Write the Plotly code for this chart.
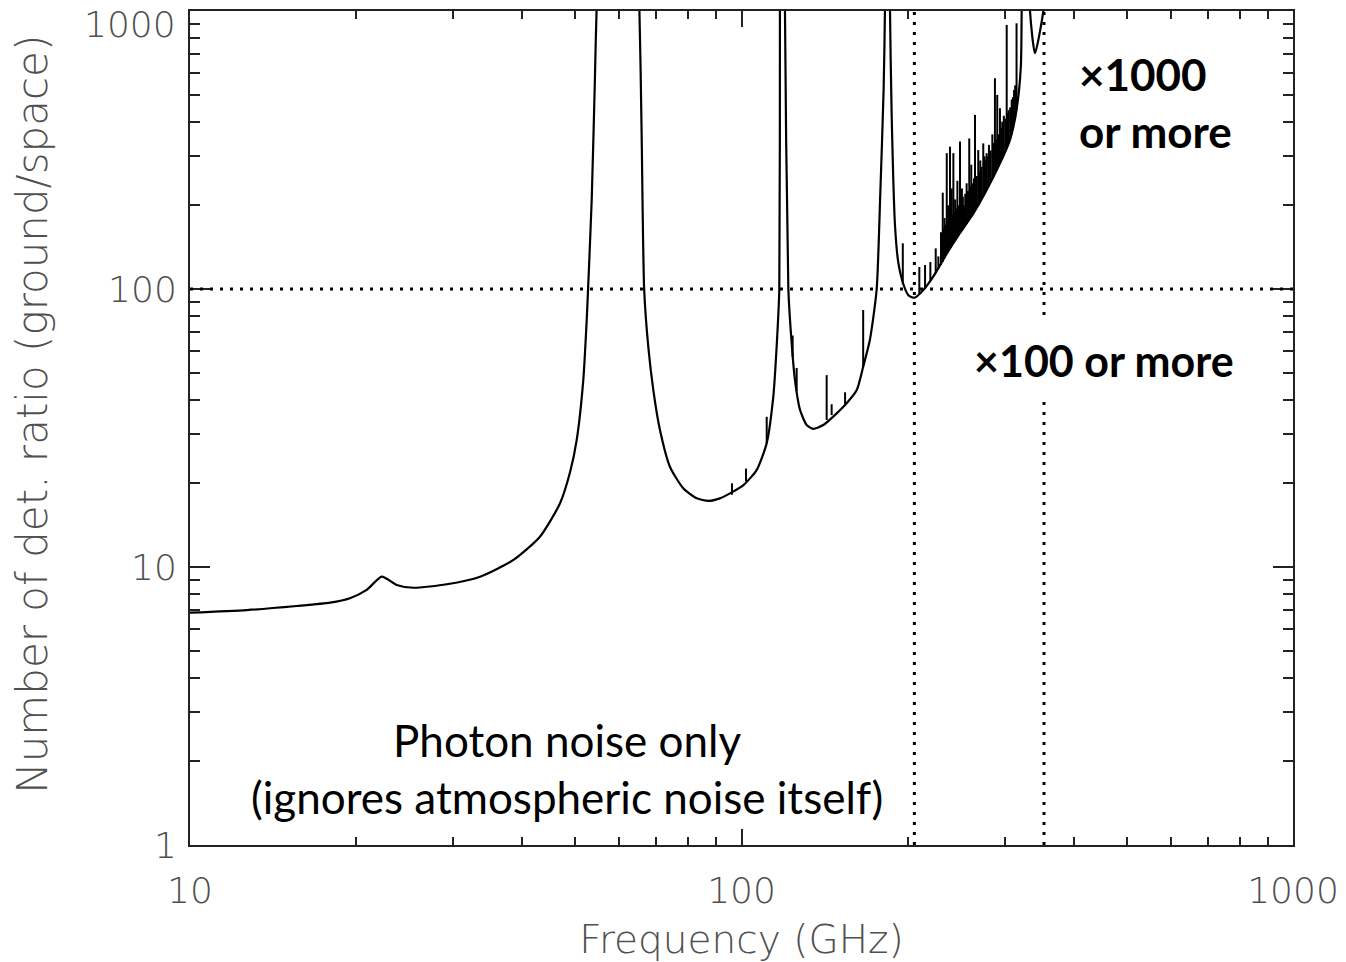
import plotly.graph_objects as go

# smooth envelope (GHz, ground/space detector ratio)
# values above 1000 run off the top of the plot
FREQ_GHZ = [10, 12.67, 15.62, 17.95, 19.5, 20.91, 22.27, 23.7, 25.41, 29.22,
            33.57, 38.59, 43.11, 46.88, 48.9, 50.25, 51.66, 52.4, 52.7, 53.5,
            54.2, 54.6, 60, 65.3, 65.9, 66.6, 67.76, 69.2, 71.15, 74.2,
            78.4, 82.96, 87.1, 91.4, 95.3, 100.8, 106.5, 111.1, 114.2, 115.8,
            117.1, 117.4, 118.75, 119.9, 121.6, 123.3, 125, 127.7, 131.3, 134.9,
            140.7, 148.8, 155.1, 161.8, 166.2, 170.9, 175.8, 178.5, 181, 182,
            183.3, 185.9, 187.2, 189.8, 192.4, 196.6, 200.7, 205.8, 213.5, 222.8,
            235.6, 249, 263.3, 278.3, 294.2, 306.8, 315.3, 321, 322.1, 325,
            333.5, 340.6, 352.6, 358]
RATIO = [6.85, 7.0, 7.24, 7.44, 7.72, 8.27, 9.23, 8.62, 8.42, 8.67,
         9.23, 10.6, 12.85, 16.95, 22.0, 28.6, 47.1, 77.3, 100, 209,
         550, 1000, 1e5, 1000, 364, 100, 62, 43.3, 31.1, 22.9,
         19.2, 17.66, 17.3, 17.66, 18.4, 19.7, 22.3, 27.9, 41, 62,
         100, 1000, 1e5, 1000, 100, 63.8, 47.1, 36.7, 32.4, 31.4,
         32.4, 35.7, 38.8, 43.3, 52.5, 65.5, 99.4, 220, 520, 1000,
         1e5, 1000, 420, 170, 125, 104, 95, 93, 99, 111,
         134, 159, 187, 227, 283, 344, 441, 630, 1000, 1e5,
         1000, 705, 1000, 1500]

# narrow lines sitting on the envelope (frequency, foot, tip)
SPIKE_FREQ = [96.1, 101.9, 111.1, 123.8, 125.9, 142.7, 145.7, 154.1, 166.2, 196.1,
              210.1, 215.2, 220, 225, 227.5, 230, 231.7, 233.5, 235.6, 237,
              238.8, 240.5, 242.2, 244, 246.3, 249, 251, 253.2, 256, 258.8,
              261, 265.1, 268.7, 271, 274.4, 276, 278.3, 281, 285, 288.1,
              290.9, 294.2, 297, 299, 302.6, 305, 309, 312, 315.3,
              232.5, 234.5, 236.5, 239.5, 241.5, 243, 245, 247.5, 250, 252,
              254.5, 257.5, 260, 262, 264, 267, 270, 272.5, 275, 277,
              280, 283, 287, 289.5, 292.5, 296, 298, 301, 304, 307,
              310.5, 313.5]
SPIKE_BASE = [18.2, 20.3, 27.9, 57, 43, 33.8, 35.2, 38.5, 52.5, 104,
              96, 100, 107, 114, 118, 122, 125, 129, 134, 137,
              140, 143, 146, 149, 153, 159, 162, 166, 172, 177,
              182, 191, 199, 207, 216, 221, 227, 236, 248, 260,
              270, 283, 295, 303, 322, 335, 360, 395, 441,
              128, 132, 135, 141, 145, 147, 151, 156, 161, 164,
              169, 175, 180, 184, 188, 196, 204, 211, 218, 223,
              232, 242, 256, 265, 276, 291, 300, 314, 329, 346,
              380, 415]
SPIKE_TOP = [20.0, 22.6, 34.7, 68, 52, 49, 38.5, 42.5, 84, 146,
             120, 122, 125, 140, 131, 160, 222, 180, 308, 200,
             325, 230, 308, 210, 245, 339, 230, 200, 240, 348,
             280, 423, 316, 290, 334, 300, 308, 330, 360, 573,
             499, 447, 400, 420, 891, 440, 480, 520, 903,
             165, 170, 175, 180, 185, 190, 195, 200, 205, 215,
             220, 225, 235, 240, 250, 255, 265, 275, 280, 290,
             300, 315, 335, 345, 360, 380, 390, 410, 430, 450,
             490, 540]

X_TICKS = [10, 100, 1000]
X_TICK_TEXT = ["10", "100", "1000"]
Y_TICKS = [1, 10, 100, 1000]
Y_TICK_TEXT = ["1", "10", "100", "1000"]

REF_RATIO = 100
REF_FREQS = [205.8, 353.6]

AXIS_FONT = dict(family="DejaVu Sans", size=36, color="#505050", weight=200)
NOTE_FONT = "Lato"
DOTS = "3px,7px"
INK = "#222222"

fig = go.Figure()

fig.add_trace(go.Scatter(
    x=FREQ_GHZ, y=RATIO,
    mode="lines",
    line=dict(color="black", width=2.2, shape="spline", smoothing=0.6),
    showlegend=False,
    hoverinfo="skip",
))

sx, sy = [], []
for f, b, t in zip(SPIKE_FREQ, SPIKE_BASE, SPIKE_TOP):
    sx += [f, f, None]
    sy += [b, t, None]

fig.add_trace(go.Scatter(
    x=sx, y=sy,
    mode="lines",
    line=dict(color="black", width=2),
    showlegend=False,
    hoverinfo="skip",
))

fig.add_hline(y=REF_RATIO, line=dict(color="black", width=3, dash=DOTS))
for f in REF_FREQS:
    fig.add_vline(x=f, line=dict(color="black", width=3, dash=DOTS))

fig.add_annotation(
    x=0.3418, y=0.0917, xref="paper", yref="paper",
    text="Photon noise only<br>(ignores atmospheric noise itself)",
    showarrow=False, align="center", xanchor="center", yanchor="middle",
    font=dict(family=NOTE_FONT, size=44, color="black"),
)
fig.add_annotation(
    x=0.804, y=0.8903, xref="paper", yref="paper",
    text="<b>×1000<br>or more</b>",
    showarrow=False, align="left", xanchor="left", yanchor="middle",
    font=dict(family=NOTE_FONT, size=44, color="black"),
)
fig.add_annotation(
    x=0.8291, y=0.5815, xref="paper", yref="paper",
    text="<b>×100 or more</b>",
    showarrow=False, align="center", xanchor="center", yanchor="middle",
    bgcolor="white", borderpad=14,
    font=dict(family=NOTE_FONT, size=43, color="black"),
)
# top y label sits just inside the page, as in the original
fig.add_annotation(
    x=0, y=1, xref="paper", yref="paper",
    text=Y_TICK_TEXT[-1], showarrow=False,
    xanchor="right", yanchor="top", xshift=-12, yshift=9,
    font=AXIS_FONT,
)
# y title placed by hand: it sits a little above the axis centre
fig.add_annotation(
    x=-0.1423, y=0.516, xref="paper", yref="paper",
    text="Number of det. ratio (ground/space)", showarrow=False,
    textangle=-90, xanchor="center", yanchor="middle",
    font=dict(AXIS_FONT, size=42),
)

axis_common = dict(
    type="log",
    showgrid=False,
    zeroline=False,
    showline=True,
    linecolor=INK,
    linewidth=2,
    mirror="ticks",
    ticks="inside",
    tickwidth=2,
    tickcolor=INK,
    tickfont=AXIS_FONT,
    automargin=False,
)

fig.update_xaxes(
    **axis_common,
    range=[1, 3],
    tickvals=X_TICKS, ticktext=X_TICK_TEXT,
    ticklen=16,
    minor=dict(ticks="inside", ticklen=8, tickwidth=2, tickcolor=INK, dtick="D1", showgrid=False),
    ticklabelstandoff=13,
    title=dict(text="Frequency (GHz)", font=dict(AXIS_FONT, size=39), standoff=15),
)
fig.update_yaxes(
    **axis_common,
    range=[0, 3],
    tickvals=Y_TICKS, ticktext=Y_TICK_TEXT[:-1] + [""],
    ticklen=20,
    minor=dict(ticks="inside", ticklen=10, tickwidth=2, tickcolor=INK, dtick="D1", showgrid=False),
    ticklabelstandoff=4,
)

fig.update_layout(
    width=1346, height=962,
    margin=dict(l=190, r=53, t=11, b=117),
    paper_bgcolor="white",
    plot_bgcolor="white",
)

fig.write_html(
    "out.html",
    config={"displayModeBar": False},
    post_script="document.body.style.margin='0';document.body.style.overflow='hidden';",
)
